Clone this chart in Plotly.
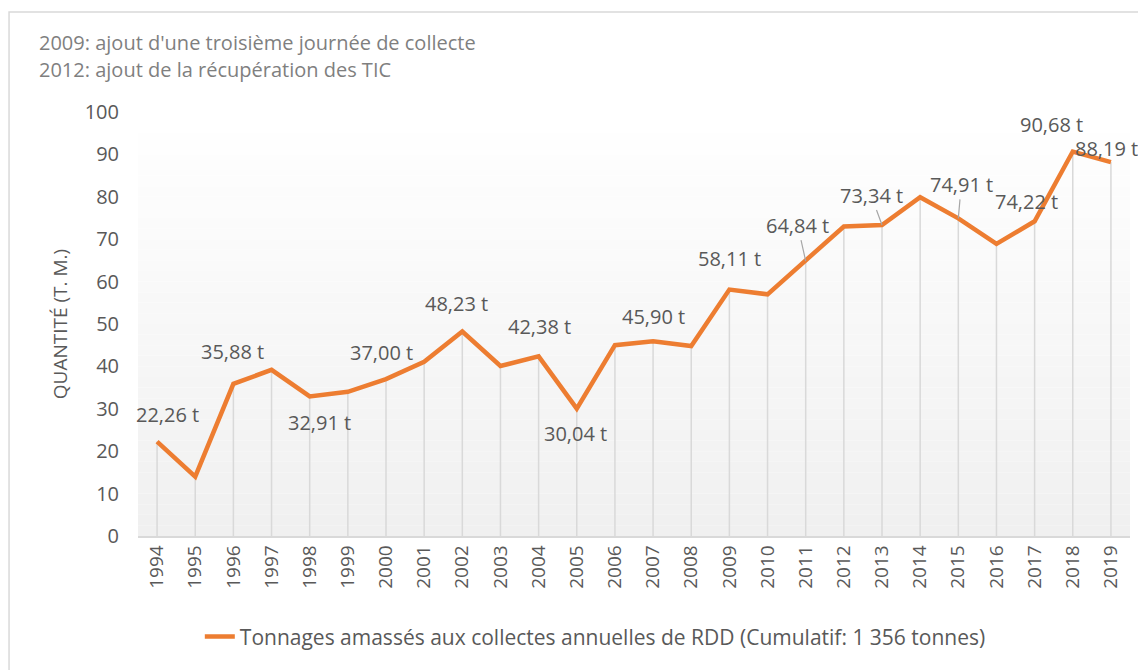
import plotly.graph_objects as go

YEARS = [str(y) for y in range(1994, 2020)]
TONNAGES = [22.26, 14.0, 35.88, 39.2, 32.91, 34.0, 37.00, 41.1, 48.23, 40.1,
            42.38, 30.04, 45.0, 45.90, 44.8, 58.11, 57.0, 64.84, 73.0, 73.34,
            79.9, 74.91, 68.9, 74.22, 90.68, 88.19]
# data labels shown in the chart
LABEL_YEARS = ["1994", "1996", "1998", "2000", "2002", "2004", "2005", "2007",
               "2009", "2011", "2013", "2015", "2017", "2018", "2019"]
LABEL_TEXTS = ["22,26 t", "35,88 t", "32,91 t", "37,00 t", "48,23 t", "42,38 t",
               "30,04 t", "45,90 t", "58,11 t", "64,84 t", "73,34 t", "74,91 t",
               "74,22 t", "90,68 t", "88,19 t"]
NOTES = ["2009: ajout d'une troisième journée de collecte",
         "2012: ajout de la récupération des TIC"]
LEGEND_NAME = "Tonnages amassés aux collectes annuelles de RDD (Cumulatif: 1 356 tonnes)"
Y_TITLE = "QUANTITÉ (T. M.)"

ORANGE = "#ED7D31"
TEXT = "#595959"
FONT = "Open Sans, Arial, sans-serif"

# pixel offsets of each label relative to its point (dx, dy up), leader line flag
LABEL_POS = {
    "1994": (10, 27, False), "1996": (-1, 32, False), "1998": (10, -26, False),
    "2000": (-5, 27, False), "2002": (-6, 28, False), "2004": (1, 30, False),
    "2005": (-1, -25, False), "2007": (0, 25, False), "2009": (0, 31, False),
    "2011": (-8, 36, True), "2013": (-11, 30, True), "2015": (3, 34, True),
    "2017": (-8, 20, False), "2018": (-21, 27, False), "2019": (-4, 14, False),
}

fig = go.Figure()

# drop lines from each point down to the axis
fig.add_scatter(
    x=YEARS, y=TONNAGES, mode="markers",
    marker={"size": 1, "color": "rgba(0,0,0,0)"},
    error_y={"type": "data", "symmetric": False, "array": [0] * len(TONNAGES),
             "arrayminus": TONNAGES, "color": "#d9d9d9", "thickness": 1.5, "width": 0},
    showlegend=False, hoverinfo="skip",
)
fig.add_scatter(
    x=YEARS, y=TONNAGES, mode="lines", name=LEGEND_NAME,
    line={"color": ORANGE, "width": 4.5},
)

# vertical gradient for the plot area
steps = 40
for i in range(steps):
    t = i / (steps - 1)
    c = int(round(255 - 15 * (1 - t)))
    fig.add_shape(
        type="rect", xref="x domain", yref="y domain",
        x0=0, x1=1, y0=i / steps, y1=(i + 1) / steps,
        fillcolor=f"rgb({c},{c},{c})", line={"width": 0}, layer="below",
    )

value_by_year = dict(zip(YEARS, TONNAGES))
for year, text in zip(LABEL_YEARS, LABEL_TEXTS):
    dx, dy, leader = LABEL_POS[year]
    idx = YEARS.index(year)
    if leader:
        fig.add_annotation(
            x=idx, y=value_by_year[year], text=text, showarrow=True,
            ax=dx, ay=-dy, arrowhead=0, arrowwidth=1.2, arrowcolor="#a6a6a6",
            font={"size": 20, "color": TEXT, "family": FONT},
        )
    else:
        fig.add_annotation(
            x=idx, y=value_by_year[year], text=text, showarrow=False,
            xshift=dx, yshift=dy,
            font={"size": 20, "color": TEXT, "family": FONT},
        )

for i, note in enumerate(NOTES):
    fig.add_annotation(
        xref="paper", yref="paper", x=-0.1018, y=1.165 - i * 0.0637,
        xanchor="left", yanchor="middle", text=note, showarrow=False,
        font={"size": 20, "color": "#7f7f7f", "family": FONT},
    )

# chart border
fig.add_shape(
    type="rect", xref="paper", yref="paper", x0=-0.130, x1=1.05, y0=-0.4, y1=1.236,
    line={"color": "#d9d9d9", "width": 1.5}, fillcolor="rgba(0,0,0,0)", layer="below",
)

# page body adds an 8px offset, so the figure is 8px smaller on each axis
fig.update_layout(
    width=1138, height=662,
    margin={"l": 130, "r": 16, "t": 104, "b": 134},
    paper_bgcolor="white", plot_bgcolor="white",
    font={"family": FONT, "color": TEXT},
    showlegend=True,
    legend={"orientation": "h", "x": 0.461, "xanchor": "center", "y": -0.238,
            "yanchor": "middle", "font": {"size": 21, "color": TEXT}},
)
fig.update_xaxes(
    type="category", range=[-0.5, len(YEARS) - 0.5], showgrid=False,
    showline=True, linecolor="#d9d9d9", linewidth=1.5,
    tickangle=-90, tickfont={"size": 19, "color": TEXT}, ticks="",
)
fig.update_yaxes(
    range=[0, 100], dtick=10, showgrid=False, zeroline=False, showline=False,
    tickfont={"size": 20, "color": TEXT}, ticks="outside", tickcolor="white", ticklen=14,
    title={"text": Y_TITLE, "font": {"size": 19, "color": TEXT}, "standoff": 12},
)

fig.write_html("out.html")
